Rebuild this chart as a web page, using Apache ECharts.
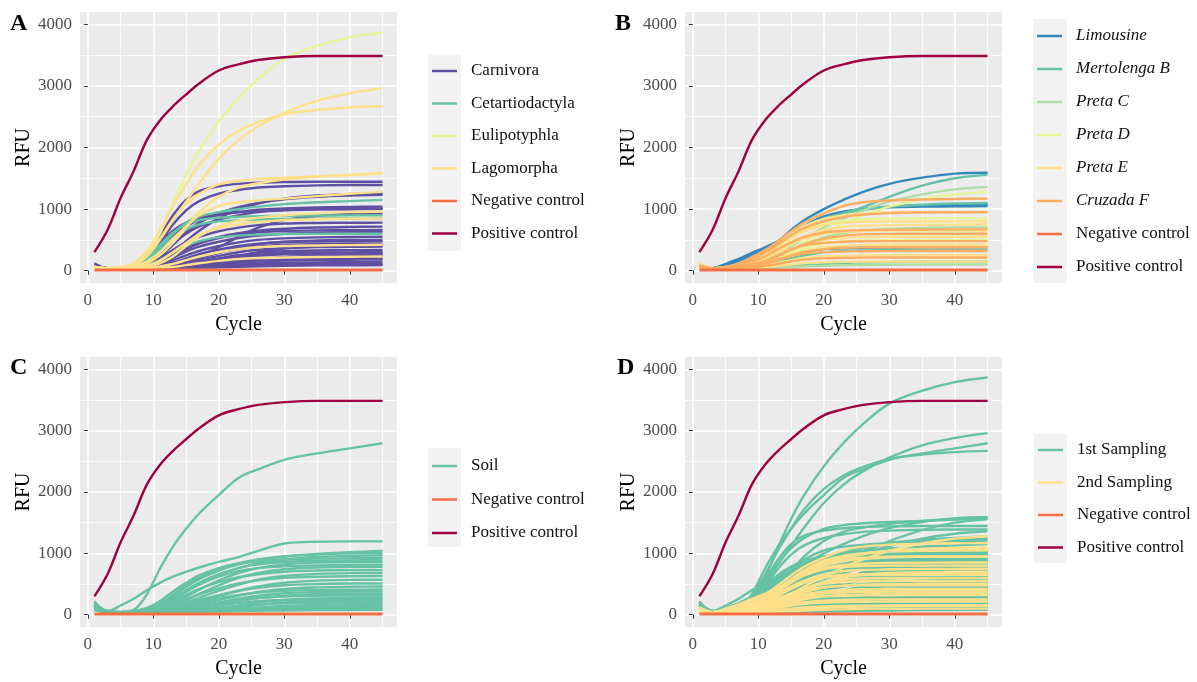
<!DOCTYPE html>
<html>
<head>
<meta charset="utf-8">
<script src="https://cdn.jsdelivr.net/npm/echarts@6/dist/echarts.min.js"></script>
<style>
  html, body { margin: 0; padding: 0; background: #fff; }
  #chart { width: 1197px; height: 682px; }
</style>
</head>
<body>
<div id="chart"></div>
<script>
const CYCLES = [1, 3, 5, 7, 9, 11, 13, 15, 17, 20, 23, 26, 30, 35, 40, 45];

const X_MAJOR = [0, 10, 20, 30, 40];
const X_MINOR = [5, 15, 25, 35, 45];
const Y_MAJOR = [0, 1000, 2000, 3000, 4000];
const Y_MINOR = [500, 1500, 2500, 3500];

const POSITIVE = [300, 660, 1180, 1620, 2120, 2440, 2670, 2860, 3040, 3250, 3350, 3420, 3465, 3485, 3485, 3485];
const NEGATIVE = [10, 10, 10, 10, 10, 10, 10, 10, 10, 10, 10, 10, 10, 10, 10, 10];

// panel A
const CARNIVORA = [
  [60, 40, 50, 90, 260, 560, 900, 1150, 1290, 1370, 1410, 1430, 1440, 1445, 1445, 1445],
  [60, 40, 50, 80, 200, 450, 750, 980, 1130, 1250, 1310, 1350, 1370, 1385, 1390, 1390],
  [100, 40, 40, 60, 110, 230, 420, 620, 780, 930, 1030, 1100, 1160, 1200, 1220, 1230],
  [50, 40, 40, 50, 80, 160, 300, 480, 650, 850, 990, 1090, 1170, 1220, 1245, 1260],
  [60, 40, 50, 80, 180, 360, 560, 720, 820, 900, 950, 990, 1010, 1025, 1035, 1040],
  [120, 40, 50, 90, 230, 450, 650, 780, 860, 920, 950, 970, 985, 995, 998, 1000],
  [50, 40, 40, 60, 120, 260, 440, 600, 720, 830, 900, 950, 980, 995, 1005, 1010],
  [50, 40, 40, 40, 50, 70, 110, 170, 250, 380, 550, 700, 820, 890, 920, 930],
  [50, 40, 40, 60, 110, 210, 340, 460, 550, 640, 700, 740, 765, 775, 778, 780],
  [100, 40, 40, 50, 80, 150, 260, 370, 460, 550, 610, 650, 680, 700, 710, 715],
  [50, 40, 40, 50, 80, 140, 240, 350, 440, 530, 590, 625, 645, 655, 658, 660],
  [50, 40, 40, 50, 70, 120, 210, 310, 390, 470, 530, 570, 600, 615, 625, 630],
  [50, 40, 40, 45, 60, 100, 170, 250, 320, 400, 460, 500, 525, 540, 547, 550],
  [50, 40, 40, 45, 55, 70, 100, 150, 210, 290, 370, 430, 470, 490, 498, 500],
  [50, 40, 40, 45, 55, 80, 130, 200, 270, 340, 400, 440, 465, 475, 478, 480],
  [50, 40, 40, 45, 55, 75, 110, 160, 220, 290, 350, 390, 420, 432, 438, 440],
  [50, 40, 40, 40, 45, 50, 60, 80, 110, 160, 230, 300, 360, 395, 405, 410],
  [50, 40, 40, 40, 50, 60, 90, 130, 180, 240, 300, 340, 370, 382, 388, 390],
  [50, 40, 40, 40, 50, 60, 80, 110, 150, 200, 250, 290, 315, 328, 333, 335],
  [50, 40, 40, 40, 45, 55, 70, 100, 140, 190, 230, 260, 285, 295, 298, 300],
  [50, 40, 40, 40, 50, 55, 70, 95, 125, 170, 210, 240, 265, 275, 278, 280],
  [50, 40, 40, 40, 45, 50, 55, 60, 70, 90, 130, 180, 220, 240, 247, 250],
  [50, 40, 40, 40, 45, 50, 60, 80, 100, 140, 170, 195, 215, 225, 228, 230],
  [50, 40, 40, 40, 45, 50, 55, 70, 90, 120, 150, 175, 190, 197, 199, 200],
  [50, 40, 40, 40, 45, 50, 55, 65, 80, 105, 130, 150, 165, 175, 178, 180],
  [50, 40, 40, 40, 45, 45, 50, 55, 65, 80, 100, 115, 128, 135, 138, 140],
  [50, 40, 40, 40, 40, 45, 50, 55, 60, 70, 80, 90, 100, 106, 109, 110],
  [50, 40, 40, 40, 40, 45, 45, 50, 50, 55, 65, 72, 80, 86, 88, 90]
];
const CETARTIODACTYLA = [
  [60, 40, 50, 80, 180, 380, 600, 780, 880, 950, 1000, 1040, 1080, 1110, 1130, 1150],
  [60, 40, 50, 90, 220, 420, 620, 750, 820, 860, 875, 885, 890, 895, 898, 900],
  [60, 40, 50, 80, 170, 340, 530, 670, 750, 800, 820, 830, 840, 845, 848, 850],
  [50, 40, 40, 50, 90, 170, 290, 400, 480, 540, 570, 585, 595, 598, 600, 600]
];
const EULIPOTYPHLA = [
  [60, 40, 50, 90, 280, 600, 1100, 1560, 1950, 2420, 2800, 3110, 3440, 3650, 3790, 3865]
];
const LAGOMORPHA = [
  [60, 40, 50, 90, 230, 500, 820, 1120, 1420, 1820, 2120, 2340, 2560, 2760, 2880, 2960],
  [60, 40, 60, 120, 320, 650, 1050, 1400, 1720, 2050, 2270, 2410, 2540, 2610, 2650, 2670],
  [60, 40, 60, 110, 280, 520, 830, 1080, 1250, 1400, 1460, 1490, 1510, 1530, 1550, 1575],
  [60, 40, 50, 70, 120, 250, 450, 700, 950, 1200, 1350, 1420, 1480, 1530, 1560, 1590],
  [60, 40, 50, 70, 150, 300, 520, 720, 900, 1050, 1110, 1140, 1170, 1210, 1250, 1280],
  [60, 40, 40, 50, 70, 120, 230, 400, 560, 720, 810, 860, 900, 930, 950, 960],
  [50, 40, 40, 50, 80, 160, 300, 450, 580, 690, 750, 790, 820, 835, 845, 850],
  [50, 40, 40, 40, 50, 70, 110, 170, 230, 300, 350, 380, 400, 410, 415, 420],
  [50, 40, 40, 40, 45, 50, 60, 90, 120, 160, 190, 205, 215, 222, 226, 230]
];

// panel B
const LIMOUSINE = [
  [40, 40, 110, 190, 290, 380, 480, 660, 820, 1000, 1150, 1280, 1410, 1510, 1575, 1590],
  [40, 40, 90, 160, 240, 320, 410, 530, 690, 860, 950, 1000, 1040, 1060, 1070, 1080],
  [40, 40, 100, 170, 260, 340, 430, 560, 720, 880, 960, 1000, 1030, 1040, 1045, 1050],
  [40, 40, 40, 45, 60, 100, 170, 250, 310, 350, 365, 372, 376, 378, 379, 380]
];
const MERTOLENGA = [
  [40, 40, 60, 100, 170, 280, 420, 580, 720, 850, 930, 1030, 1200, 1380, 1500, 1560],
  [40, 40, 60, 90, 150, 250, 400, 560, 700, 840, 930, 990, 1040, 1070, 1090, 1100],
  [40, 40, 40, 45, 60, 90, 140, 200, 250, 300, 320, 330, 335, 338, 340, 340],
  [40, 40, 40, 40, 45, 50, 60, 75, 90, 110, 125, 135, 142, 147, 149, 150]
];
const PRETA_C = [
  [40, 40, 45, 55, 80, 140, 250, 390, 530, 700, 850, 980, 1120, 1240, 1320, 1360],
  [40, 40, 45, 50, 70, 120, 210, 320, 420, 540, 610, 650, 680, 695, 700, 700],
  [40, 40, 40, 40, 45, 50, 55, 60, 70, 80, 88, 93, 97, 99, 100, 100]
];
const PRETA_D = [
  [40, 40, 45, 55, 75, 120, 210, 330, 460, 620, 770, 900, 1040, 1160, 1240, 1280],
  [40, 40, 50, 70, 120, 220, 380, 540, 660, 760, 810, 830, 845, 848, 850, 850],
  [40, 40, 45, 50, 70, 110, 190, 290, 370, 440, 475, 490, 497, 500, 500, 500]
];
const PRETA_E = [
  [120, 40, 60, 90, 160, 270, 420, 580, 720, 840, 900, 930, 945, 950, 950, 950],
  [120, 40, 50, 80, 140, 240, 380, 520, 640, 740, 780, 795, 800, 800, 800, 800],
  [60, 40, 45, 60, 100, 180, 300, 430, 550, 660, 710, 730, 740, 745, 748, 750],
  [100, 40, 50, 70, 120, 200, 310, 420, 520, 600, 630, 645, 650, 650, 650, 650],
  [100, 40, 45, 60, 100, 170, 260, 350, 430, 500, 530, 545, 550, 550, 550, 550],
  [80, 40, 45, 55, 80, 130, 200, 270, 330, 380, 405, 415, 420, 420, 420, 420],
  [80, 40, 40, 50, 60, 90, 130, 170, 205, 230, 242, 248, 250, 250, 250, 250],
  [60, 40, 40, 45, 50, 60, 80, 100, 120, 135, 143, 147, 150, 150, 150, 150]
];
const CRUZADA_F = [
  [80, 40, 60, 120, 220, 330, 480, 640, 780, 930, 1050, 1110, 1140, 1155, 1165, 1170],
  [80, 40, 55, 100, 180, 290, 430, 570, 690, 800, 870, 910, 935, 945, 948, 950],
  [80, 40, 50, 80, 140, 230, 350, 460, 550, 620, 650, 660, 665, 668, 670, 670],
  [60, 40, 45, 60, 90, 150, 240, 340, 430, 520, 570, 590, 598, 600, 600, 600],
  [60, 40, 45, 60, 100, 160, 250, 340, 410, 450, 470, 478, 480, 480, 480, 480],
  [60, 40, 45, 55, 75, 110, 170, 240, 300, 350, 370, 378, 380, 380, 380, 380],
  [60, 40, 45, 55, 80, 120, 180, 240, 280, 300, 310, 315, 318, 320, 320, 320],
  [60, 40, 40, 45, 55, 75, 110, 150, 180, 200, 208, 212, 215, 215, 215, 215]
];

// panel C
const SOIL = [
  [200, 60, 50, 80, 330, 750, 1110, 1400, 1650, 1950, 2230, 2370, 2525, 2630, 2710, 2795],
  [200, 60, 150, 260, 400, 520, 620, 700, 770, 860, 940, 1040, 1160, 1190, 1195, 1195],
  [220, 40, 40, 50, 80, 160, 300, 450, 580, 720, 820, 890, 950, 990, 1020, 1040],
  [200, 40, 40, 50, 90, 180, 330, 480, 610, 750, 840, 900, 950, 980, 1000, 1010],
  [180, 40, 40, 50, 70, 130, 240, 370, 500, 650, 760, 840, 900, 940, 960, 970],
  [200, 40, 40, 60, 110, 220, 380, 520, 640, 760, 830, 870, 900, 915, 920, 925],
  [180, 40, 40, 50, 80, 150, 270, 400, 520, 660, 760, 820, 860, 880, 885, 890],
  [160, 40, 40, 45, 60, 100, 180, 290, 410, 560, 680, 760, 820, 850, 860, 860],
  [200, 40, 40, 50, 80, 150, 260, 380, 490, 620, 710, 760, 790, 805, 810, 810],
  [160, 40, 40, 45, 60, 90, 150, 240, 340, 480, 600, 680, 740, 770, 780, 780],
  [150, 40, 40, 50, 70, 130, 220, 320, 420, 530, 610, 660, 700, 720, 728, 730],
  [150, 40, 40, 45, 55, 80, 130, 200, 280, 390, 490, 570, 630, 665, 678, 680],
  [150, 40, 40, 45, 60, 100, 170, 250, 330, 430, 510, 560, 600, 620, 628, 630],
  [140, 40, 40, 45, 55, 70, 100, 150, 210, 300, 390, 460, 520, 555, 568, 570],
  [140, 40, 40, 45, 55, 80, 120, 180, 240, 320, 390, 440, 480, 500, 508, 510],
  [130, 40, 40, 40, 50, 60, 80, 120, 170, 240, 310, 370, 420, 445, 455, 460],
  [130, 40, 40, 45, 50, 70, 100, 150, 200, 270, 320, 360, 390, 405, 408, 410],
  [120, 40, 40, 40, 45, 55, 70, 100, 140, 200, 260, 310, 350, 370, 378, 380],
  [120, 40, 40, 40, 45, 50, 60, 80, 110, 160, 220, 270, 310, 335, 343, 345],
  [110, 40, 40, 40, 45, 55, 70, 95, 130, 180, 230, 270, 295, 308, 312, 315],
  [110, 40, 40, 40, 45, 50, 55, 65, 80, 110, 150, 200, 240, 265, 275, 280],
  [100, 40, 40, 40, 45, 50, 60, 80, 110, 150, 190, 220, 240, 250, 253, 255],
  [100, 40, 40, 40, 40, 45, 50, 55, 65, 85, 120, 160, 200, 220, 228, 230],
  [100, 40, 40, 40, 45, 50, 55, 65, 80, 110, 140, 165, 185, 195, 198, 200],
  [90, 40, 40, 40, 40, 45, 50, 55, 60, 75, 95, 120, 145, 160, 167, 170],
  [90, 40, 40, 40, 40, 45, 50, 55, 60, 70, 80, 95, 115, 130, 137, 140],
  [80, 40, 40, 40, 40, 40, 45, 50, 55, 60, 70, 80, 95, 105, 108, 110],
  [80, 40, 40, 40, 40, 40, 45, 45, 50, 55, 60, 65, 70, 75, 78, 80]
];

// panel D: same wells, split by sampling
const FIRST_SAMPLING = [].concat(CARNIVORA, CETARTIODACTYLA, EULIPOTYPHLA, LAGOMORPHA, SOIL,
  [LIMOUSINE[0], MERTOLENGA[0], PRETA_C[0]]);
const SECOND_SAMPLING = [].concat(LIMOUSINE.slice(1), MERTOLENGA.slice(1), PRETA_C.slice(1),
  PRETA_D, PRETA_E, CRUZADA_F);

const COLORS = {
  'Carnivora': '#5E4FA2', 'Cetartiodactyla': '#66C2A5', 'Eulipotyphla': '#E6F598', 'Lagomorpha': '#FEE08B',
  'Limousine': '#3288BD', 'Mertolenga B': '#66C2A5', 'Preta C': '#ABDDA4', 'Preta D': '#E6F598',
  'Preta E': '#FEE08B', 'Cruzada F': '#FDAE61', 'Soil': '#66C2A5',
  '1st Sampling': '#66C2A5', '2nd Sampling': '#FEE08B',
  'Negative control': '#F46D43', 'Positive control': '#9E0142'
};

const PANELS = [
  { letter: 'A', groups: [['Carnivora', CARNIVORA], ['Cetartiodactyla', CETARTIODACTYLA], ['Eulipotyphla', EULIPOTYPHLA],
      ['Lagomorpha', LAGOMORPHA], ['Negative control', [NEGATIVE]], ['Positive control', [POSITIVE]]] },
  { letter: 'B', groups: [['Limousine', LIMOUSINE], ['Mertolenga B', MERTOLENGA], ['Preta C', PRETA_C], ['Preta D', PRETA_D],
      ['Preta E', PRETA_E], ['Cruzada F', CRUZADA_F], ['Negative control', [NEGATIVE]], ['Positive control', [POSITIVE]]] },
  { letter: 'C', groups: [['Soil', SOIL], ['Negative control', [NEGATIVE]], ['Positive control', [POSITIVE]]] },
  { letter: 'D', groups: [['1st Sampling', FIRST_SAMPLING], ['2nd Sampling', SECOND_SAMPLING],
      ['Negative control', [NEGATIVE]], ['Positive control', [POSITIVE]]] }
];

const FONT = 'Liberation Serif';
const grids = [
  { left: 80, top: 12, width: 317, height: 271 },
  { left: 685, top: 12, width: 317, height: 271 },
  { left: 80, top: 357, width: 317, height: 270 },
  { left: 685, top: 357, width: 317, height: 270 }
];
const legendPos = [
  { left: 432, top: 62.5, gap: 15.5 },
  { left: 1037, top: 27.5, gap: 16 },
  { left: 432, top: 457.5, gap: 16.5 },
  { left: 1038, top: 441.5, gap: 15.5 }
];
const keyBoxes = [
  [428, 55, 33, 196],
  [1033, 19, 34, 264],
  [428, 448, 33, 99],
  [1034, 434, 33, 129]
];
const titlePos = [[10, 12], [615, 12], [10, 356], [617, 356]];
const CONTROLS = ['Negative control', 'Positive control'];

const xAxes = [], yAxes = [], series = [], legends = [], titles = [], graphics = [];

grids.forEach((g, gi) => {
  xAxes.push({
    gridIndex: gi, type: 'value', min: -1.2, max: 47.2,
    name: 'Cycle', nameLocation: 'middle', nameGap: 32,
    nameTextStyle: { fontFamily: FONT, fontSize: 20, color: '#000' },
    axisLine: { show: false },
    axisTick: { show: true, customValues: X_MAJOR, length: 4, lineStyle: { color: '#333' } },
    axisLabel: { customValues: X_MAJOR, margin: 9, fontFamily: FONT, fontSize: 17, color: '#4d4d4d',
      formatter: v => String(v) },
    splitLine: { show: true, lineStyle: { color: '#fff', width: 1.6 } }
  });
  xAxes.push({
    gridIndex: gi, type: 'value', min: -1.2, max: 47.2, position: 'top',
    axisLine: { show: false },
    axisTick: { show: false, customValues: X_MINOR },
    axisLabel: { show: false },
    splitLine: { show: true, lineStyle: { color: '#fff', width: 0.8 } }
  });
  yAxes.push({
    gridIndex: gi, type: 'value', min: -200, max: 4200,
    name: 'RFU', nameLocation: 'middle', nameGap: 35,
    nameTextStyle: { fontFamily: FONT, fontSize: 20, color: '#000' },
    axisLine: { show: false },
    axisTick: { show: true, customValues: Y_MAJOR, length: 4, lineStyle: { color: '#333' } },
    axisLabel: { customValues: Y_MAJOR, margin: 8, fontFamily: FONT, fontSize: 17, color: '#4d4d4d',
      formatter: v => String(v) },
    splitLine: { show: true, lineStyle: { color: '#fff', width: 1.6 } }
  });
  yAxes.push({
    gridIndex: gi, type: 'value', min: -200, max: 4200, position: 'right',
    axisLine: { show: false },
    axisTick: { show: false, customValues: Y_MINOR },
    axisLabel: { show: false },
    splitLine: { show: true, lineStyle: { color: '#fff', width: 0.8 } }
  });

  const panel = PANELS[gi];
  panel.groups.forEach(([name, rows]) => {
    rows.forEach(row => {
      series.push({
        type: 'line', name: name,
        xAxisIndex: gi * 2, yAxisIndex: gi * 2,
        data: CYCLES.map((c, i) => [c, row[i]]),
        symbol: 'none', smooth: 0.35, silent: true,
        lineStyle: { width: name === 'Negative control' ? 3 : 2.4, color: COLORS[name] },
        itemStyle: { color: COLORS[name] }
      });
    });
  });

  const lp = legendPos[gi];
  legends.push({
    orient: 'vertical', left: lp.left, top: lp.top, itemGap: lp.gap,
    icon: 'rect', itemWidth: 25, itemHeight: 2.5, padding: 0, selectedMode: false,
    data: panel.groups.map(gr => gr[0]),
    formatter: gi === 1 ? (n => CONTROLS.includes(n) ? n : '{i|' + n + '}') : '{name}',
    textStyle: {
      fontFamily: FONT, fontSize: 17, lineHeight: 17, color: '#111', padding: [0, 0, 0, 9],
      rich: { i: { fontFamily: FONT, fontSize: 17, fontStyle: 'italic', color: '#111' } }
    }
  });

  const kb = keyBoxes[gi];
  graphics.push({ type: 'rect', z: -1, silent: true,
    shape: { x: kb[0], y: kb[1], width: kb[2], height: kb[3] }, style: { fill: '#f2f2f2' } });

  titles.push({ text: panel.letter, left: titlePos[gi][0], top: titlePos[gi][1], padding: 0,
    textStyle: { fontFamily: FONT, fontSize: 24, fontWeight: 'bold', color: '#000' } });
});

const chart = echarts.init(document.getElementById('chart'), null, { renderer: 'canvas' });
chart.setOption({
  animation: false,
  backgroundColor: '#fff',
  title: titles,
  grid: grids.map(g => Object.assign({ show: true, backgroundColor: '#ebebeb', borderWidth: 0, containLabel: false }, g)),
  xAxis: xAxes,
  yAxis: yAxes,
  legend: legends,
  graphic: graphics,
  series: series
});
</script>
</body>
</html>
